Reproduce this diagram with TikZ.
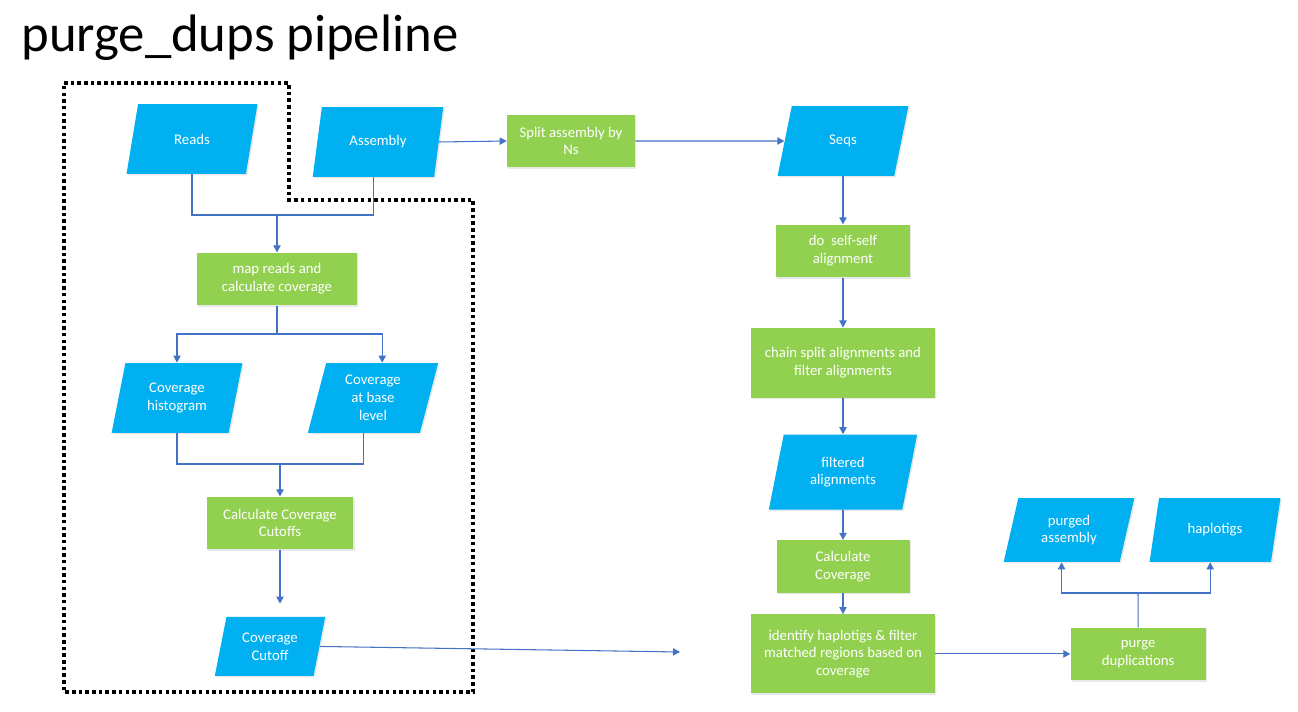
\documentclass[tikz,border=0pt]{standalone}
\usepackage{fontspec}
\setmainfont{Carlito}
\usepackage{tikz}
\usetikzlibrary{arrows.meta,positioning,shapes.geometric,shadows}
\definecolor{dupblue}{RGB}{0,176,240}
\definecolor{dupgreen}{RGB}{146,208,80}
\definecolor{dupline}{RGB}{68,114,196}

\begin{document}
\begin{tikzpicture}[
  x=0.02cm, y=-0.02cm,
  proc/.style={rectangle, fill=dupgreen, text=white, align=center,
               minimum width=27mm, minimum height=10.5mm,
               font=\fontsize{8.4}{10.1}\selectfont,
               drop shadow={opacity=0.18, shadow xshift=0.8pt, shadow yshift=-0.8pt}},
  data/.style={trapezium, trapezium left angle=77, trapezium right angle=103,
               trapezium stretches=true, fill=dupblue, text=white, align=center,
               minimum width=26.2mm, minimum height=14mm,
               font=\fontsize{8.4}{10.1}\selectfont,
               drop shadow={opacity=0.18, shadow xshift=0.8pt, shadow yshift=-0.8pt}},
  link/.style={dupline, line width=0.6pt},
  arr/.style={-{Triangle[length=4pt, width=4.2pt]}, dupline, line width=0.6pt},
  frame/.style={black, line width=2.2pt, dash pattern=on 2pt off 1.8pt}
]
\useasboundingbox (0,0) rectangle (1298,712);
\node[anchor=base west, inner sep=0, font=\fontsize{30}{36}\selectfont] (title)
  at (21,52) {purge\_dups pipeline};
\draw[frame] (64,83) -- (289,83) -- (289,200) -- (473,200) -- (473,692) -- (64,692) -- cycle;

\node[data] (reads) at (192,139) {Reads};
\node[data] (assembly) at (378,142) {Assembly};
\node[proc, minimum width=32mm] (map) at (277,279) {map reads and\\calculate coverage};
\node[data] (hist) at (177,398) {Coverage\\histogram};
\node[data] (base) at (373,398) {Coverage\\at base\\level};
\node[proc, minimum width=29.4mm] (cutoffs) at (280,523) {Calculate Coverage\\Cutoffs};
\node[data, minimum width=22.2mm, minimum height=11.8mm, below=13.4mm of cutoffs,
      xshift=-2mm] (cutoff) {Coverage\\Cutoff};

\node[proc, minimum width=25.6mm] (split) at (571,141) {Split assembly by\\Ns};
\node[data] (seqs) at (843,141) {Seqs};
\node[proc, minimum width=26.8mm, below=9.6mm of seqs] (selfaln) {do\ \ self-self\\alignment};
\node[proc, minimum width=36.8mm, minimum height=14mm, below=10mm of selfaln] (chain)
  {chain split alignments and\\filter alignments};
\node[data, minimum width=29.8mm, minimum height=15mm, below=7.2mm of chain] (filtaln)
  {filtered\\alignments};
\node[proc, minimum width=26.6mm, below=6mm of filtaln] (calccov) {Calculate\\Coverage};
\node[proc, minimum width=36.8mm, minimum height=15.8mm, below=4.2mm of calccov] (ident)
  {identify haplotigs \& filter\\matched regions based on\\coverage};
\node[proc, minimum width=27mm, right=27mm of ident] (purge) {purge\\duplications};
\node[data, minimum height=12.8mm] (purgedasm) at (1069,530) {purged\\assembly};
\node[data, minimum height=12.8mm] (haplo) at (1215,530) {haplotigs};

\coordinate (rajoin) at (277,215);
\draw[link] (reads.south) |- (rajoin);
\draw[link] (assembly.bottom side) |- (rajoin);
\draw[arr] (rajoin) -- (map.north);
\draw[arr] (assembly.east) -- (split.west);
\draw[arr] (split.east) -- (seqs.west);

\coordinate (mapfork) at (277,334);
\draw[link] (map.south) -- (mapfork);
\draw[arr] (mapfork) -| (hist.north);
\draw[arr] (mapfork) -| (base.top side);
\coordinate (histjoin) at (280,464);
\draw[link] (hist.south) |- (histjoin);
\draw[link] (base.bottom side) |- (histjoin);
\draw[arr] (histjoin) -- (cutoffs.north);
\draw[arr, shorten >=2.6mm] (cutoffs.south) -- (cutoffs.south |- cutoff.north);
\coordinate (cutend) at (680,652);
\draw[arr] (cutoff.east) -- (cutend);

\draw[arr] (seqs.south) -- (selfaln.north);
\draw[arr] (selfaln.south) -- (chain.north);
\draw[arr] (chain.south) -- (filtaln.north);
\draw[arr] (filtaln.south) -- (calccov.north);
\draw[arr] (calccov.south) -- (ident.north);
\draw[arr] (ident.east) -- (purge.west);
\coordinate (purgefork) at (1138,593);
\draw[link] (purge.north) -- (purgefork);
\draw[arr] (purgefork) -| (purgedasm.bottom side);
\draw[arr] (purgefork) -| (haplo.bottom side);
\end{tikzpicture}
\end{document}
